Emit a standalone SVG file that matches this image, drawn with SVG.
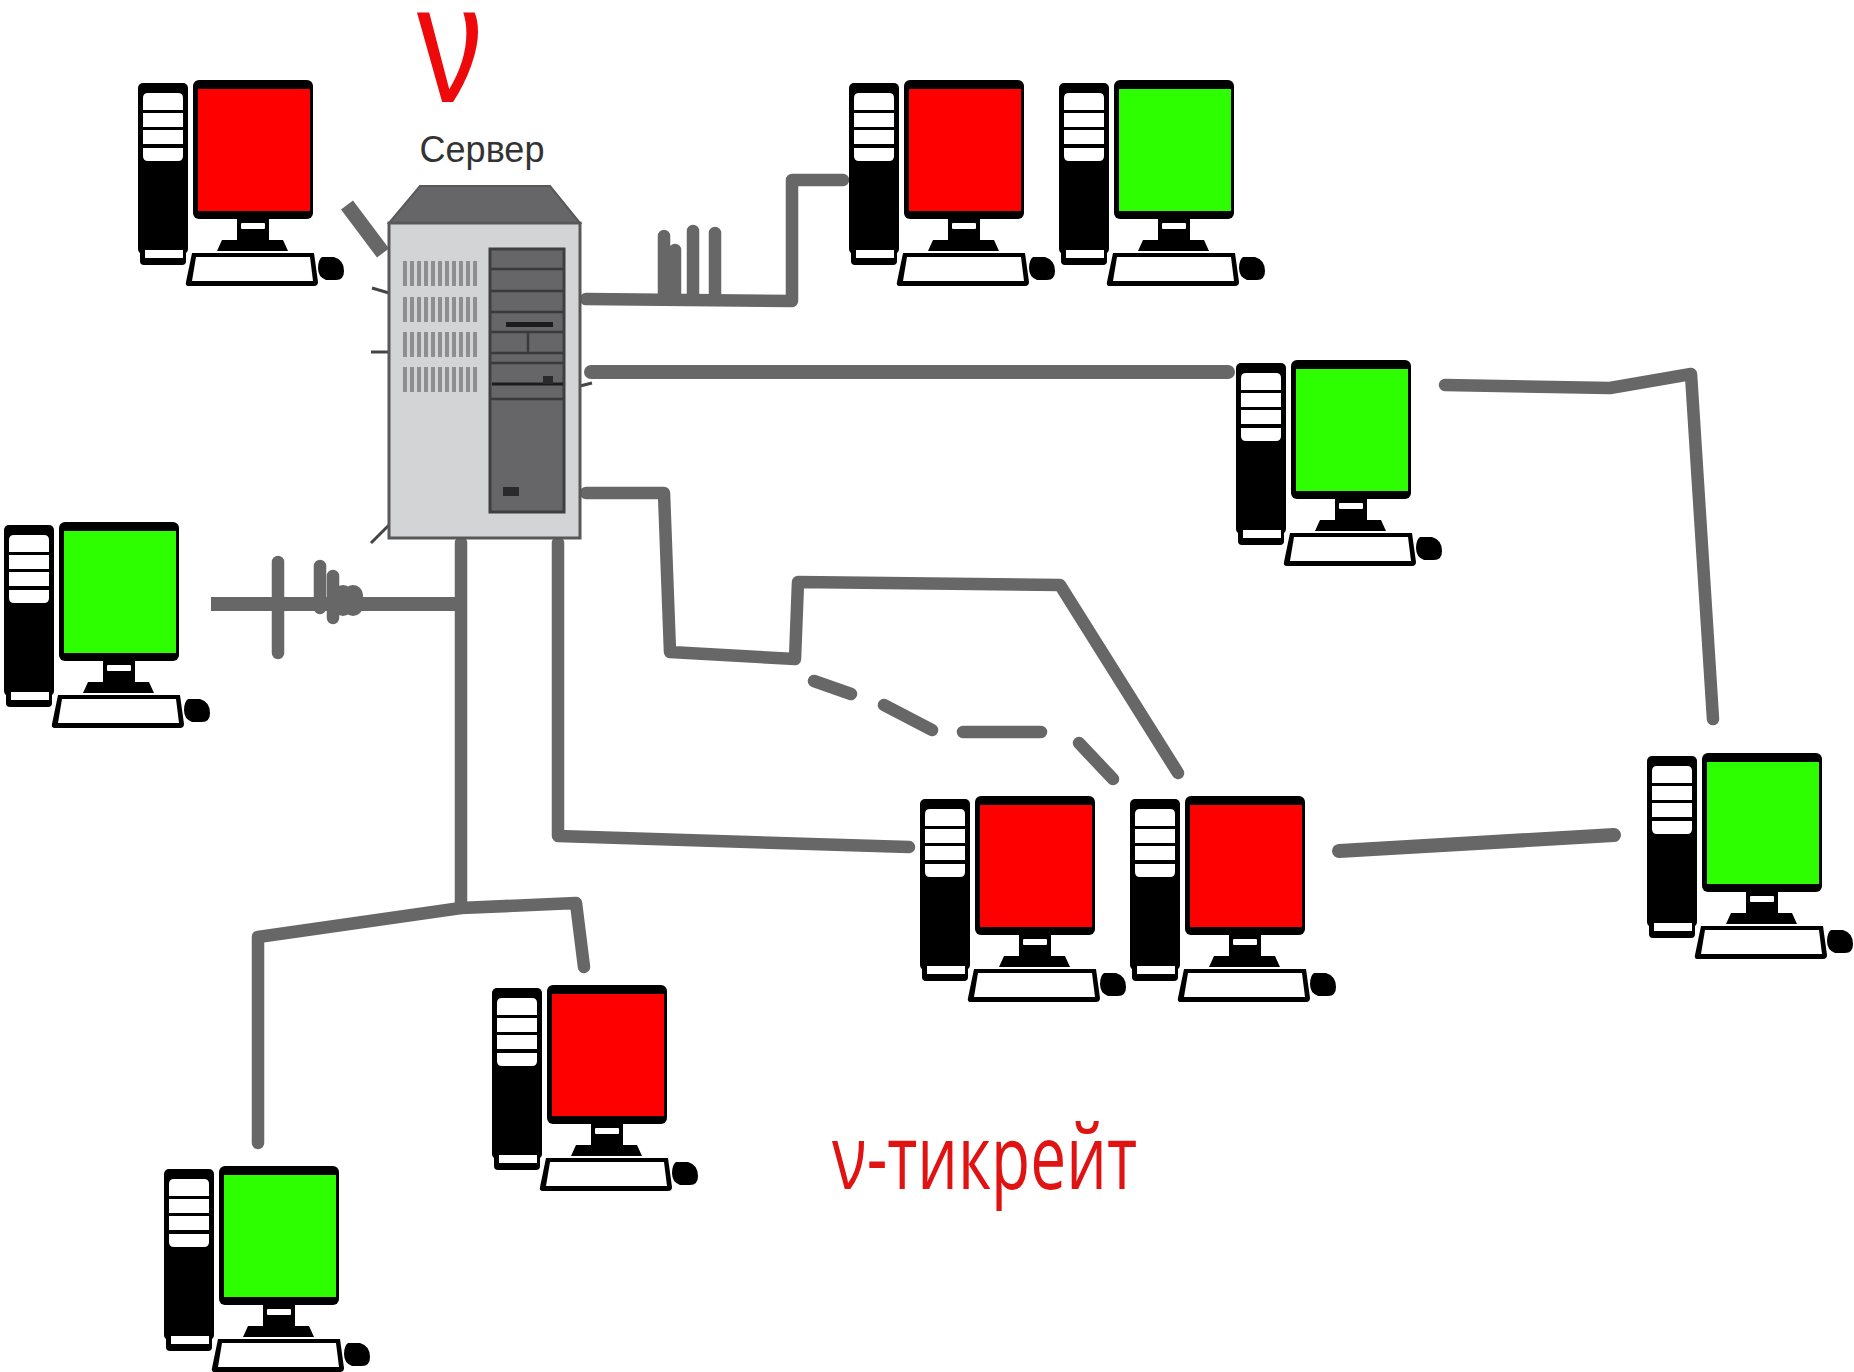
<svg xmlns="http://www.w3.org/2000/svg" width="1854" height="1372" viewBox="0 0 1854 1372">
<style>
.wire{fill:none;stroke:#676767;stroke-width:12.5;stroke-linejoin:round;stroke-linecap:round}
.thin{fill:none;stroke:#444;stroke-width:3}
.k{fill:#000}.w{fill:#fff}
.red{fill:#ff0000}.green{fill:#2dff00}
.body{fill:#d3d4d6;stroke:#58585a;stroke-width:3}
.roof{fill:#666668;stroke:#58585a;stroke-width:2}
.panel{fill:#666668;stroke:#3f3f41;stroke-width:3}
.pl{stroke:#3a3a3c;stroke-width:2.5}
.vent{fill:#8d8e90}
.lbl{font-family:"Liberation Sans",Arial,sans-serif}
</style>
<defs>
<g id="pc">
<rect class="k" x="0" y="3" width="50" height="171" rx="5"/>
<rect class="k" x="2" y="165" width="46" height="20" rx="4"/>
<path class="w" d="M5 18q0-5 5-5h30q5 0 5 5v12H5z"/>
<rect class="w" x="5" y="33" width="40" height="14"/>
<rect class="w" x="5" y="50" width="40" height="14"/>
<path class="w" d="M5 68h40v8q0 5-5 5H10q-5 0-5-5z"/>
<rect class="w" x="7" y="170" width="38" height="8"/>
<rect class="k" x="55" y="0" width="120" height="139" rx="6"/>
<rect class="k" x="99" y="137" width="32" height="25"/>
<rect class="w" x="103" y="143" width="24" height="6" rx="1"/>
<path class="k" d="M84 160h61l5 11H79z"/>
<path class="k" d="M54 173h122l4 29q0 4-4 4H51q-4 0-3-4z"/>
<path class="w" d="M58 177h114l3 24H54z"/>
<path class="k" d="M184 177h12q10 3 10 14q0 9-8 9h-10q-8-3-8-12q0-8 4-11z"/>
</g>
</defs>
<rect width="1854" height="1372" fill="#fff"/>
<g id="connectors">
<path class="wire" d="M586 299L792 301L792 180L843 180"/>
<path class="wire" d="M664 236V296M675 250V296M693 231V296M715 233V296"/>
<path class="wire" style="stroke-width:14" d="M591 372H1228"/>
<path class="wire" d="M1445 385L1610 388L1691 374L1713 719"/>
<path class="wire" d="M586 493L664 493L670 652L795 659L798 582L1060 585L1178 773"/>
<path class="wire" d="M814 681L851 694M884 705L932 730M963 732H1041M1079 743L1113 779"/>
<path class="wire" d="M558 543V836L909 847"/>
<path class="wire" style="stroke-width:14" d="M1339 851L1614 835"/>
<path class="wire" d="M461 543V908"/>
<path class="wire" style="stroke-width:14;stroke-linecap:butt" d="M211 604H461"/>
<path class="wire" d="M278 562V653M320 566V608M333 576V618"/>
<path class="wire" style="stroke-width:20" d="M343 595V606M353 595V606"/>
<path class="wire" d="M258 1143V937L461 908L576 903L584 967"/>
<path class="wire" style="stroke-width:15;stroke-linecap:butt" d="M347 205L383 253"/>
<path class="thin" d="M372 288L389 293M371 352H389M371 543L389 525M580 386L592 383"/>
</g>
<g id="server">
<path class="roof" d="M420 186H550L580 223H389z"/>
<rect class="body" x="389" y="223" width="191" height="315"/>
<rect class="panel" x="490" y="249" width="74" height="263"/>
<path class="pl" d="M491 269H563M491 291H563M491 312H563M491 332H563M491 353H563M491 363H563M491 399H563M528 332V353"/>
<path stroke="#1c1c1e" stroke-width="3" d="M492 384H563"/>
<rect x="506" y="322" width="47" height="5" fill="#1c1c1e"/>
<rect x="543" y="376" width="10" height="8" fill="#2a2a2c"/>
<rect x="503" y="487" width="16" height="9" fill="#2a2a2c"/>
<g id="vents" class="vent">
<path d="M403 261h4v25h-4zM410 261h4v25h-4zM417 261h4v25h-4zM424 261h4v25h-4zM431 261h4v25h-4zM438 261h4v25h-4zM445 261h4v25h-4zM452 261h4v25h-4zM459 261h4v25h-4zM466 261h4v25h-4zM473 261h4v25h-4z"/>
<path d="M403 297h4v25h-4zM410 297h4v25h-4zM417 297h4v25h-4zM424 297h4v25h-4zM431 297h4v25h-4zM438 297h4v25h-4zM445 297h4v25h-4zM452 297h4v25h-4zM459 297h4v25h-4zM466 297h4v25h-4zM473 297h4v25h-4z"/>
<path d="M403 332h4v25h-4zM410 332h4v25h-4zM417 332h4v25h-4zM424 332h4v25h-4zM431 332h4v25h-4zM438 332h4v25h-4zM445 332h4v25h-4zM452 332h4v25h-4zM459 332h4v25h-4zM466 332h4v25h-4zM473 332h4v25h-4z"/>
<path d="M403 367h4v25h-4zM410 367h4v25h-4zM417 367h4v25h-4zM424 367h4v25h-4zM431 367h4v25h-4zM438 367h4v25h-4zM445 367h4v25h-4zM452 367h4v25h-4zM459 367h4v25h-4zM466 367h4v25h-4zM473 367h4v25h-4z"/>
</g>
<text class="lbl" x="482" y="162" font-size="36" fill="#333" text-anchor="middle">Сервер</text>
</g>
<g id="pc1" transform="translate(138 80)"><use href="#pc"/><rect class="red" x="60" y="9" width="112" height="122"/></g>
<g id="pc2" transform="translate(849 80)"><use href="#pc"/><rect class="red" x="60" y="9" width="112" height="122"/></g>
<g id="pc3" transform="translate(1059 80)"><use href="#pc"/><rect class="green" x="60" y="9" width="112" height="122"/></g>
<g id="pc4" transform="translate(1236 360)"><use href="#pc"/><rect class="green" x="60" y="9" width="112" height="122"/></g>
<g id="pc5" transform="translate(4 522)"><use href="#pc"/><rect class="green" x="60" y="9" width="112" height="122"/></g>
<g id="pc6" transform="translate(1647 753)"><use href="#pc"/><rect class="green" x="60" y="9" width="112" height="122"/></g>
<g id="pc7" transform="translate(920 796)"><use href="#pc"/><rect class="red" x="60" y="9" width="112" height="122"/></g>
<g id="pc8" transform="translate(1130 796)"><use href="#pc"/><rect class="red" x="60" y="9" width="112" height="122"/></g>
<g id="pc9" transform="translate(492 985)"><use href="#pc"/><rect class="red" x="60" y="9" width="112" height="122"/></g>
<g id="pc10" transform="translate(164 1166)"><use href="#pc"/><rect class="green" x="60" y="9" width="112" height="122"/></g>
<g id="labels">
<text class="lbl" x="417" y="102" font-size="168" fill="#ee0a0a" textLength="66" lengthAdjust="spacingAndGlyphs">ν</text>
<text x="832" y="1189" font-family="'Open Sans','Noto Sans',sans-serif" font-size="90" fill="#e01212" textLength="305" lengthAdjust="spacingAndGlyphs">ν-тикрейт</text>
</g>
</svg>
